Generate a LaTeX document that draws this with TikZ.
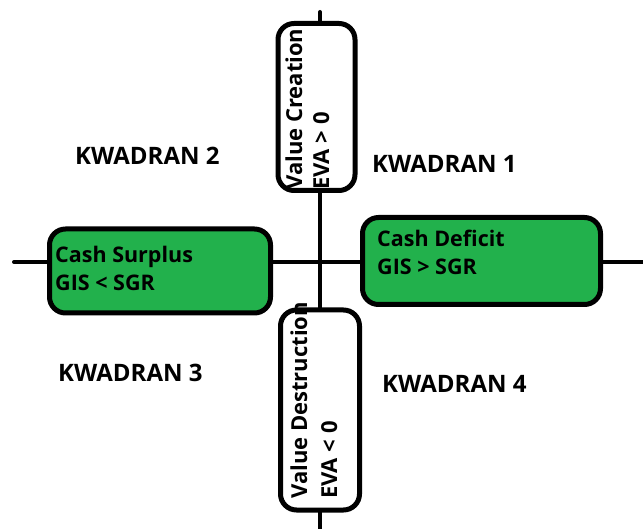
\documentclass[tikz,border=0pt]{standalone}
\usepackage{fontspec}
\setmainfont{Open Sans}
\definecolor{paintgreen}{RGB}{34,177,76}
\begin{document}
\begin{tikzpicture}[x=1pt,y=-1pt,
  axis/.style={line width=4pt, line cap=round},
  vbox/.style={draw, line width=5pt, rounded corners=16pt, fill=white, inner sep=0pt},
  gbox/.style={draw, line width=5pt, rounded corners=16pt, fill=paintgreen, inner sep=0pt},
  quad/.style={font=\fontsize{24}{27}\selectfont\bfseries, anchor=base west, inner sep=0pt},
  gtext/.style={font=\fontsize{21.5}{24}\selectfont\bfseries, anchor=base west, inner sep=0pt},
  rtext/.style={font=\fontsize{22}{24}\selectfont\bfseries, anchor=base west, inner sep=0pt, rotate=90}
]
\useasboundingbox (0,0) rectangle (643,529);
% axes
\coordinate (vt) at (320,12);
\coordinate (vb) at (320,535);
\coordinate (hl) at (14,262);
\coordinate (hr) at (650,262);
\draw[axis] (vt) -- (vb);
\draw[axis] (hl) -- (hr);
% boxes
\node[vbox, minimum width=77pt, minimum height=167pt] (top) at (316.5,107) {};
\node[vbox, minimum width=79pt, minimum height=200pt] (bot) at (320,410) {};
\node[gbox, minimum width=221pt, minimum height=84pt] (left) at (160,271) {};
\node[gbox, minimum width=238pt, minimum height=87pt] (right) at (481.5,261) {};
% box texts
\node[rtext] (vc) at (302,190) {Value Creation};
\node[rtext] (evap) at (329,190) {EVA > 0};
\node[rtext] (vd) at (307,499) {Value Destruction};
\node[rtext] (evan) at (337,499) {EVA < 0};
\node[gtext] (cs) at (55,263) {Cash Surplus};
\node[gtext] (gl) at (55,291) {GIS < SGR};
\node[gtext] (cd) at (377,247) {Cash Deficit};
\node[gtext] (gg) at (377,275) {GIS > SGR};
% quadrant labels
\node[quad] (k2) at (75,165) {KWADRAN 2};
\node[quad] (k1) at (372,173) {KWADRAN 1};
\node[quad] (k3) at (58,382) {KWADRAN 3};
\node[quad] (k4) at (382,392) {KWADRAN 4};
\end{tikzpicture}
\end{document}
